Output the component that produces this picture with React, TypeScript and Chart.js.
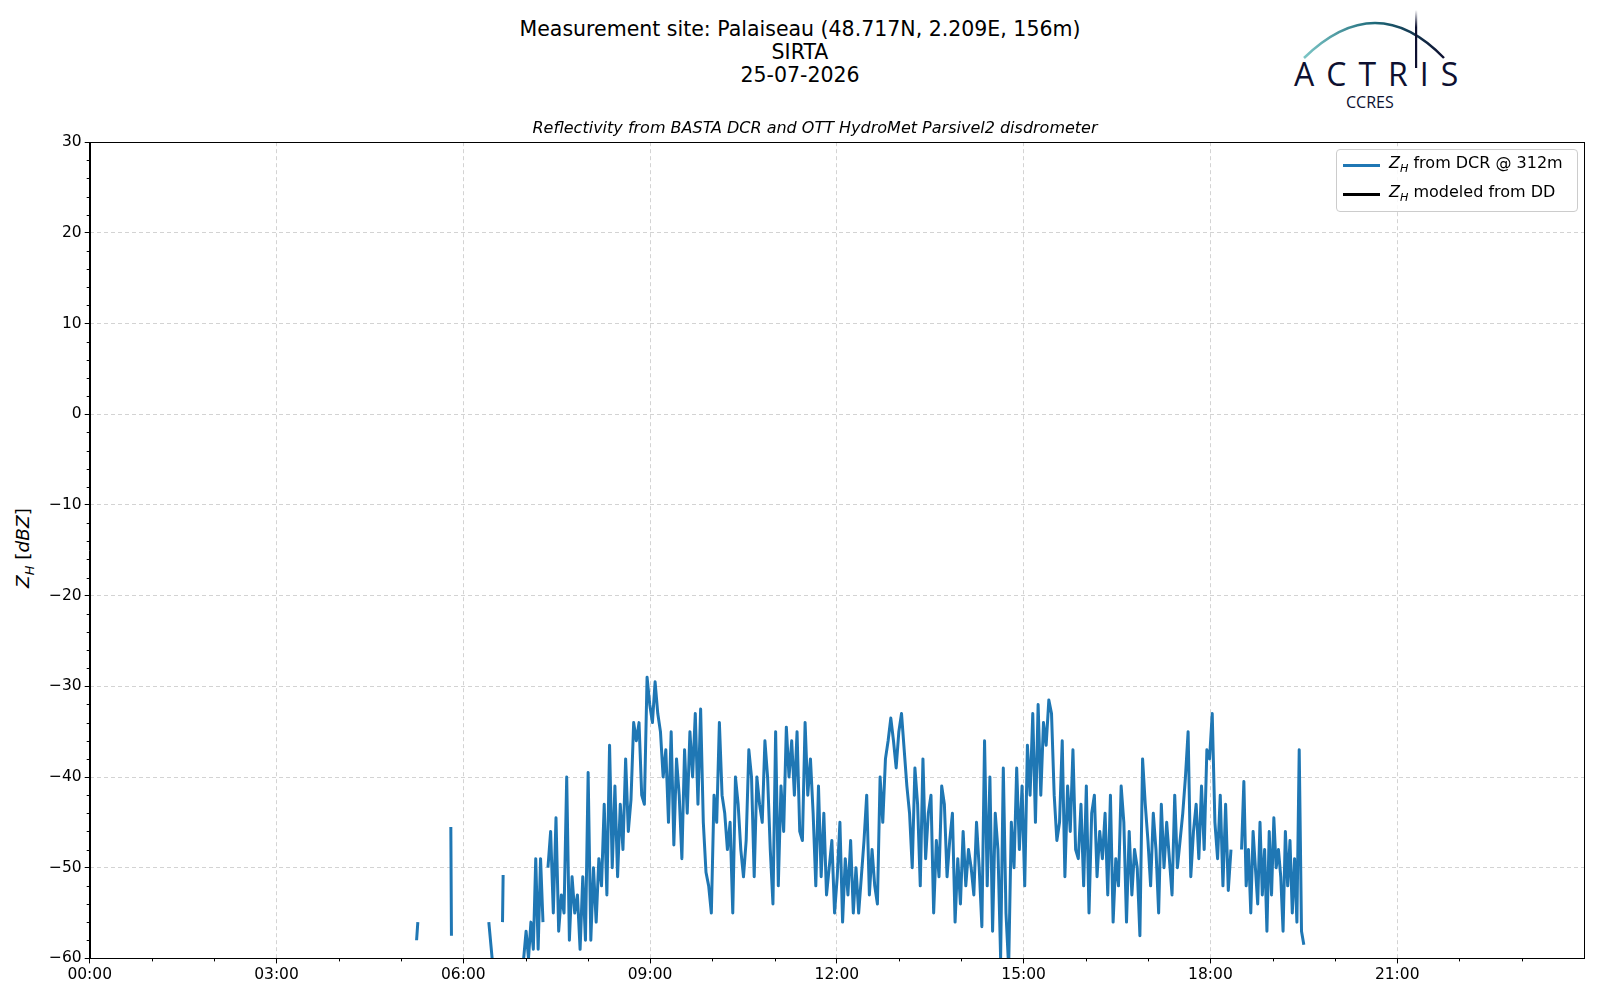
import React, { useEffect, useRef } from "react";
import { Chart, registerables } from "chart.js";
Chart.register(...registerables);

// DCR segments: start hour, end hour, values evenly sampled in between
const segStarts = [5.25, 5.80, 6.41, 6.63, 6.97, 7.36, 18.5];
const segEnds = [5.27, 5.81, 6.47, 6.64, 7.28, 18.33, 19.5];
const seg0 = [-58, -56];
const seg1 = [-45.5, -57.5];
const seg2 = [-56, -60.5];
const seg3 = [-56, -50.8];
const seg4 = [-60, -57, -60, -56, -59, -49, -59, -49, -56];
const seg5 = [
  -50, -46, -55, -44.5, -57, -53, -55, -40, -58, -51, -55, -53, -59, -51, -58, -39.5, -58, -50, -56, -49, -52, -43, -53, -36.5, -50, -41, -51, -43, -48, -38, -46, -42.5, -34, -36, -34, -42, -43, -29, -32, -34, -29.5, -33, -35, -40, -37, -45, -35, -47.5, -38, -42, -49, -37, -44, -35, -40, -33, -43, -32.5, -45, -50.5, -52, -55, -42, -45, -34, -42, -44, -48, -45, -55, -40, -43, -48, -51, -47, -37, -40, -51, -40, -43, -45, -36, -40, -48, -54, -35, -52, -41, -46, -34.5, -40, -36, -42, -35, -46, -47, -34, -42, -38, -44, -52, -41, -51, -44, -53, -50, -47, -55, -51, -45, -56, -49, -53, -47, -55, -50, -55, -51, -47, -42, -53, -48, -52, -54, -40, -45, -38, -36, -33.5, -36, -39, -35, -33, -37, -41, -44, -50, -39, -43, -52, -38, -49, -44, -42, -55, -47, -51, -41, -43, -51, -47, -44, -56, -49, -54, -46, -52, -48, -50, -53, -45, -50, -56.5, -36, -52, -40, -57, -44, -48, -60, -39, -55, -61, -45, -50, -39, -48, -41, -52, -36.5, -42, -33, -45, -32, -42, -34, -36.5, -31.5, -33, -42, -47, -45, -36, -51, -41, -46, -37, -48, -49, -43, -52, -41, -55, -44, -42, -51, -46, -49, -44, -53, -42, -56, -49, -52, -41, -45, -56, -46, -53, -48, -50, -57.5, -38, -43, -47, -52, -44, -48, -55, -43, -50, -45, -49, -53, -42, -50, -47, -44, -40, -35, -51, -46, -43, -49, -41, -48, -37, -38, -33, -45, -49, -42, -52, -43, -52.5, -48,
];
const seg6 = [-48, -40.5, -52, -48, -55, -46, -50, -54, -45, -53, -48, -57, -46, -53, -44.5, -50, -48, -51, -57, -46, -52, -47, -55, -49, -56, -37, -57, -58.5];
const segValues = [seg0, seg1, seg2, seg3, seg4, seg5, seg6];

const legendLabels = ["Z_H from DCR @ 312m", "Z_H modeled from DD"];
const xTicks = [0, 3, 6, 9, 12, 15, 18, 21];
const yTicks = [30, 20, 10, 0, -10, -20, -30, -40, -50, -60];

const FONT = "'DejaVu Sans', sans-serif";

const minorTicks = {
  id: "minorTicks",
  afterDraw(chart: any) {
    const { ctx, scales, chartArea: a } = chart;
    const x = scales.x, y = scales.y;
    ctx.save();
    ctx.strokeStyle = "#000";
    ctx.lineWidth = 1;
    for (let h = 0; h <= 24; h += 1) {
      if (h % 3 === 0) continue;
      const px = Math.round(x.getPixelForValue(h)) + 0.5;
      ctx.beginPath(); ctx.moveTo(px, y.bottom); ctx.lineTo(px, y.bottom + 3); ctx.stroke();
    }
    for (let v = -60; v <= 30; v += 2) {
      if (v % 10 === 0) continue;
      const py = Math.round(y.getPixelForValue(v)) + 0.5;
      ctx.beginPath(); ctx.moveTo(x.left - 3, py); ctx.lineTo(x.left, py); ctx.stroke();
    }
    ctx.strokeRect(Math.round(a.left) + 0.5, Math.round(a.top) + 0.5, Math.round(a.right - a.left), Math.round(a.bottom - a.top));
    ctx.restore();
  },
};

export default function App() {
  const ref = useRef<HTMLCanvasElement>(null);
  useEffect(() => {
    const data: { x: number; y: number | null }[] = [];
    segValues.forEach((vals, s) => {
      const n = vals.length;
      vals.forEach((v, i) => {
        data.push({ x: segStarts[s] + ((segEnds[s] - segStarts[s]) * i) / (n - 1), y: v });
      });
      data.push({ x: segEnds[s] + 0.01, y: null });
    });
    const chart = new Chart(ref.current!, {
      type: "line",
      data: {
        datasets: [
          { label: legendLabels[0], data: data as any, borderColor: "#1f77b4", borderWidth: 3, pointRadius: 0, spanGaps: false, tension: 0, borderJoinStyle: "round" },
          { label: legendLabels[1], data: [], borderColor: "#000", borderWidth: 2, pointRadius: 0 },
        ],
      },
      options: {
        animation: false,
        responsive: false,
        layout: { padding: { left: 0, right: 8, top: 0, bottom: 0 } },
        plugins: {
          legend: { display: false },
          tooltip: { enabled: false },
          title: {
            display: true,
            text: "Reflectivity from BASTA DCR and OTT HydroMet Parsivel2 disdrometer",
            font: { family: FONT, size: 16, style: "italic", weight: "normal" },
            color: "#000",
            padding: { top: 0, bottom: 4 },
          },
        },
        scales: {
          x: {
            type: "linear", min: 0, max: 24,
            afterBuildTicks: (ax: any) => { ax.ticks = xTicks.map((v) => ({ value: v })); },
            ticks: {
              color: "#000", font: { family: FONT, size: 15.5 }, maxRotation: 0, padding: 2,
              callback: (v: any) => String(v).padStart(2, "0") + ":00",
            },
            grid: { color: "#d3d3d3", tickLength: 5, tickColor: "#000" },
            border: { color: "#000", dash: [4, 3] },
          },
          y: {
            min: -60, max: 30,
            afterBuildTicks: (ax: any) => { ax.ticks = yTicks.map((v) => ({ value: v })); },
            ticks: {
              color: "#000", font: { family: FONT, size: 15.5 }, padding: 3,
              callback: (v: any) => (Number(v) < 0 ? "\u2212" + Math.abs(Number(v)) : String(v)),
            },
            grid: { color: "#d3d3d3", tickLength: 5, tickColor: "#000" },
            border: { color: "#000", dash: [4, 3] },
          },
        },
      },
      plugins: [minorTicks],
    });
    return () => chart.destroy();
  }, []);

  const sub = (rest: string) => (
    <span>
      <i>Z</i><sub style={{ fontSize: "0.7em", fontStyle: "italic" }}>H</sub>{rest}
    </span>
  );

  return (
    <div style={{ position: "relative", width: 1584, height: 980, fontFamily: FONT, background: "#fff", overflow: "hidden" }}>
      <div style={{ position: "absolute", left: 0, width: 1584, top: 10, textAlign: "center", fontSize: 20.5, lineHeight: "23px", color: "#000" }}>
        <div>Measurement site: Palaiseau (48.717N, 2.209E, 156m)</div>
        <div>SIRTA</div>
        <div>25-07-2026</div>
      </div>
      <svg style={{ position: "absolute", left: 1276, top: -6 }} width="190" height="110">
        <defs>
          <linearGradient id="g" x1="0" x2="1">
            <stop offset="0" stopColor="#7cc6c6" />
            <stop offset="0.5" stopColor="#1e6a7a" />
            <stop offset="1" stopColor="#0d1030" />
          </linearGradient>
          <linearGradient id="v" x1="0" x2="0" y1="0" y2="1">
            <stop offset="0" stopColor="#fff" />
            <stop offset="0.3" stopColor="#0d1030" />
          </linearGradient>
        </defs>
        <path d="M 20 56 Q 92 -14 160 56" stroke="url(#g)" strokeWidth="2.5" fill="none" />
        <rect x="131" y="8" width="2.2" height="58" fill="url(#v)" />
        <text x="10" y="84" fontFamily="'Open Sans', sans-serif" fontSize="32" fill="#0d1030" letterSpacing="12">ACTRIS</text>
        <text x="62" y="106" fontFamily="'Open Sans', sans-serif" fontSize="16" fill="#0d1030">CCRES</text>
      </svg>
      <div style={{ position: "absolute", left: 4, top: 580, transform: "rotate(-90deg)", transformOrigin: "left top", fontSize: 18.5, whiteSpace: "nowrap" }}>
        <i>Z</i><sub style={{ fontSize: "0.7em", fontStyle: "italic" }}>H</sub> [<i>dBZ</i>]
      </div>
      <canvas ref={ref} width={1546} height={867} style={{ position: "absolute", left: 38, top: 111, width: 1546, height: 867 }} />
      <div style={{ position: "absolute", left: 1328, top: 141, width: 240, height: 61, border: "1px solid #ccc", borderRadius: 4, background: "rgba(255,255,255,0.85)", fontSize: 16, color: "#000" }}>
        <div style={{ position: "absolute", left: 6, top: 14, width: 37, height: 2.5, background: "#1f77b4" }} />
        <div style={{ position: "absolute", left: 52, top: 3 }}>{sub(" from DCR @ 312m")}</div>
        <div style={{ position: "absolute", left: 6, top: 43, width: 37, height: 2.5, background: "#000" }} />
        <div style={{ position: "absolute", left: 52, top: 32 }}>{sub(" modeled from DD")}</div>
      </div>
    </div>
  );
}
